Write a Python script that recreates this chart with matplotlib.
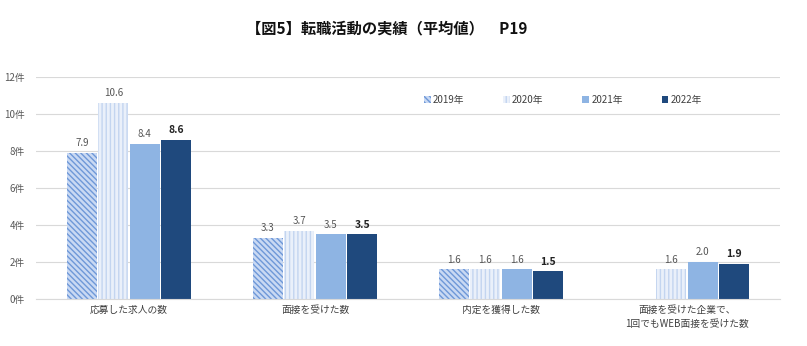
import matplotlib
matplotlib.use("Agg")
import matplotlib.pyplot as plt
import numpy as np
from matplotlib.patches import Patch

plt.rcParams['font.family'] = ['Noto Sans CJK JP', 'DejaVu Sans']
plt.rcParams['hatch.linewidth'] = 1.0

categories = ["応募した求人の数", "面接を受けた数", "内定を獲得した数", "面接を受けた企業で、\n1回でもWEB面接を受けた数"]
series_names = ["2019年", "2020年", "2021年", "2022年"]
values = {
    "2019年": [7.9, 3.3, 1.6, None],
    "2020年": [10.6, 3.7, 1.6, 1.6],
    "2021年": [8.4, 3.5, 1.6, 2.0],
    "2022年": [8.6, 3.5, 1.5, 1.9],
}
yticks = [0, 2, 4, 6, 8, 10, 12]
yticklabels = ["0件", "2件", "4件", "6件", "8件", "10件", "12件"]

styles = {
    "2019年": dict(facecolor="#C9D9F3", edgecolor="#6E98D8", hatch="\\\\\\\\\\\\", linewidth=0),
    "2020年": dict(facecolor="#EAF0FA", edgecolor="#C3D5F0", hatch="||||", linewidth=0),
    "2021年": dict(facecolor="#8EB4E3", edgecolor="white", linewidth=0),
    "2022年": dict(facecolor="#1F497D", edgecolor="white", linewidth=0),
}

fig = plt.figure(figsize=(8.07, 3.46), dpi=100)
ax = fig.add_axes([36/807, 1-299/346, 744/807, 222/346])

x = np.arange(len(categories))
w = 0.16
step = 0.169
for i, s in enumerate(series_names):
    offs = (i - 1.5) * step
    for j, v in enumerate(values[s]):
        if v is None:
            continue
        ax.bar(x[j] + offs, v, width=w, **styles[s])
        ax.text(x[j] + offs, v + 0.25, f"{v:.1f}", ha="center", va="bottom",
                fontsize=7.5 if s == "2022年" else 7,
                fontweight="bold" if s == "2022年" else "normal",
                color="#222222" if s == "2022年" else "#555555")

ax.set_xlim(-0.5, len(categories) - 0.5)
ax.set_ylim(0, 12)
ax.set_yticks(yticks)
ax.set_yticklabels(yticklabels, fontsize=7, color="#595959")
ax.set_xticks(x)
ax.set_xticklabels(categories, fontsize=7, color="#404040", linespacing=1.6)
ax.tick_params(axis="both", length=0, pad=4)
ax.tick_params(axis="y", pad=8)
ax.grid(axis="y", color="#D9D9D9", linewidth=0.8)
ax.set_axisbelow(True)
for sp in ["top", "right", "left"]:
    ax.spines[sp].set_visible(False)
ax.spines["bottom"].set_color("#D9D9D9")

handles = [Patch(**styles[s], label=s) for s in series_names]
leg = ax.legend(handles=handles, loc="upper left", bbox_to_anchor=(0.51, 0.96), ncol=4,
                frameon=False, fontsize=7, handlelength=0.7, handleheight=0.7,
                handletextpad=0.2, columnspacing=4.0)
for t in leg.get_texts():
    t.set_color("#404040")

fig.text(387/807, 1 - 28/346, "【図5】転職活動の実績（平均値）　P19", ha="center", va="center",
         fontsize=11, fontweight="bold", color="#111111")

fig.savefig("out.png", dpi=100, facecolor="white")
